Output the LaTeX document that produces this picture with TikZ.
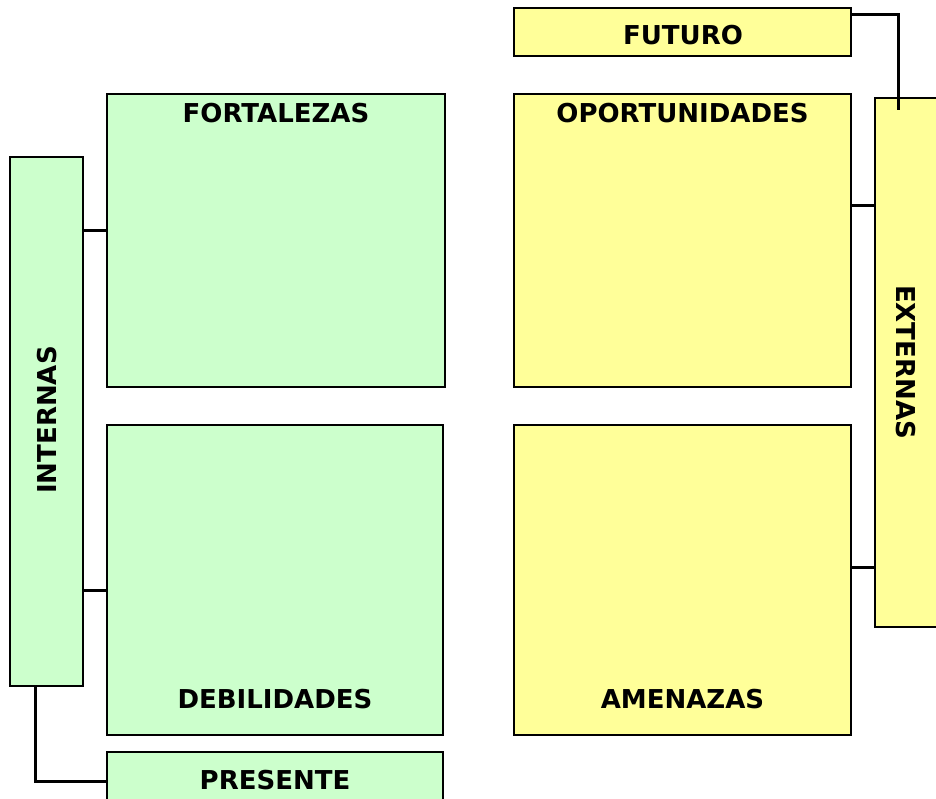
\documentclass[tikz,border=0pt]{standalone}
\usepackage{fontspec}
\setmainfont{DejaVu Sans}
\begin{document}
\begin{tikzpicture}[x=1pt,y=-1pt,
  box/.style={draw=black, line width=2.2pt, inner sep=0pt, outer sep=0pt},
  green/.style={box, fill=greenfill},
  yellow/.style={box, fill=yellowfill},
  lbl/.style={font=\fontsize{26}{29}\selectfont\bfseries, inner sep=0pt},
  conn/.style={draw=black, line width=3pt}]
\definecolor{greenfill}{HTML}{CCFFCC}
\definecolor{yellowfill}{HTML}{FFFF99}
\useasboundingbox (0,0) rectangle (936,798);
\clip (0,0) rectangle (936,798);
% connectors (drawn first, under boxes)
\coordinate (futend) at (898,110);
% boxes
\node[yellow, minimum width=337pt, minimum height=48pt] (fut) at (682.5,32) {};
\node[yellow, minimum width=337pt, minimum height=293pt] (opp) at (682.5,240.5) {};
\node[yellow, minimum width=337pt, minimum height=310pt] (ame) at (682.5,580) {};
\node[yellow, minimum width=66pt, minimum height=529pt] (ext) at (908,362.5) {};
\node[green, minimum width=338pt, minimum height=293pt] (fort) at (276,240.5) {};
\node[green, minimum width=336pt, minimum height=310pt] (deb) at (275,580) {};
\node[green, minimum width=73pt, minimum height=529pt] (int) at (46.5,421.5) {};
\node[green, minimum width=336pt, minimum height=58pt] (pres) at (275,781) {};
% labels
\node[lbl] (tfut) at (683,35) {FUTURO};
\node[lbl] (topp) at (682.5,113) {OPORTUNIDADES};
\node[lbl] (tame) at (682.5,699) {AMENAZAS};
\node[lbl, rotate=-90] (text) at (906,362) {EXTERNAS};
\node[lbl] (tfort) at (276,113) {FORTALEZAS};
\node[lbl] (tdeb) at (275,699) {DEBILIDADES};
\node[lbl, rotate=90] (tint) at (47,420) {INTERNAS};
\node[lbl] (tpres) at (275,780) {PRESENTE};
% connectors
\draw[conn] ([yshift=18pt]fut.east) -| (futend);
\draw[conn] ([yshift=35.5pt]opp.east) -- ([yshift=35.5pt]opp.east -| ext.west);
\draw[conn] ([yshift=13pt]ame.east) -- ([yshift=13pt]ame.east -| ext.west);
\draw[conn] ([yshift=10.5pt]fort.west -| int.east) -- ([yshift=10.5pt]fort.west);
\draw[conn] ([yshift=-10pt]deb.west -| int.east) -- ([yshift=-10pt]deb.west);
\draw[conn] ([xshift=-11.5pt]int.south) |- (pres.west);
\end{tikzpicture}
\end{document}
